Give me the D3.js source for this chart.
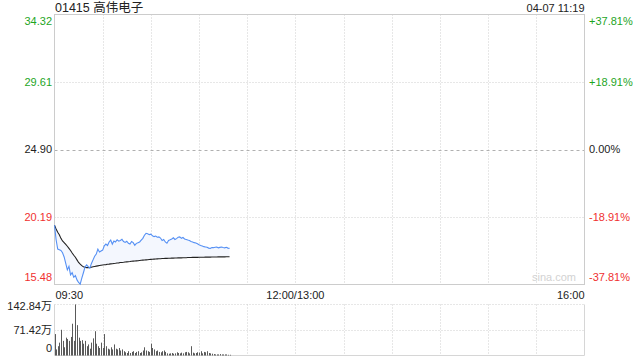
<!DOCTYPE html>
<html><head><meta charset="utf-8">
<script src="https://cdn.jsdelivr.net/npm/d3@7"></script>
<style>
html,body{margin:0;padding:0;background:#fff;}
svg{display:block;font-family:"Liberation Sans",Arial,"Noto Sans CJK SC",sans-serif;}
</style></head>
<body><svg id="c" width="640" height="360"></svg>
<script>
const title = "01415 高伟电子";
const stamp = "04-07 11:19";
const prevClose = 24.90;
const priceTicks = [34.32, 29.61, 24.90, 20.19, 15.48];
const pctTicks = ["+37.81%", "+18.91%", "0.00%", "-18.91%", "-37.81%"];
const timeLabels = ["09:30", "12:00/13:00", "16:00"];
const timeLabelMinutes = [0, 150, 330];
const volTicks = [142.84, 71.42, 0];
const volTickLabels = ["142.84万", "71.42万", "0"];
// minute-by-minute price from 09:30
const price = [19.61,18.60,17.95,17.90,17.85,17.70,17.40,16.95,16.50,16.75,
16.15,16.30,15.98,16.10,15.80,15.62,15.50,15.92,16.30,16.70,
16.85,16.72,16.62,16.95,17.20,17.45,17.60,17.95,17.75,17.82,
17.88,18.18,18.30,18.20,18.45,18.58,18.30,18.52,18.45,18.60,
18.50,18.55,18.63,18.48,18.42,18.50,18.36,18.30,18.48,18.40,
18.22,18.35,18.40,18.45,18.58,18.70,18.92,19.05,19.02,18.96,
18.99,18.88,18.82,18.86,18.78,18.80,18.72,18.55,18.62,18.45,
18.36,18.55,18.60,18.66,18.74,18.62,18.68,18.78,18.80,18.70,
18.76,18.66,18.62,18.58,18.55,18.48,18.45,18.40,18.38,18.32,
18.25,18.20,18.16,18.12,18.10,18.08,18.02,18.00,18.06,18.05,
18.08,18.09,18.04,18.07,18.10,18.06,18.04,18.08,18.02,18.00];
// average price line
const avgPrice = [19.61,19.35,19.12,18.95,18.70,18.52,18.40,18.28,18.15,18.00,
17.85,17.68,17.52,17.38,17.20,17.02,16.90,16.80,16.72,16.68,
16.66,16.66,16.67,16.69,16.72,16.74,16.76,16.78,16.80,16.82,
16.84,16.86,16.87,16.89,16.90,16.92,16.93,16.95,16.96,16.98,
16.99,17.01,17.02,17.03,17.05,17.06,17.07,17.08,17.10,17.11,
17.12,17.13,17.14,17.16,17.17,17.18,17.19,17.20,17.21,17.22,
17.23,17.24,17.25,17.26,17.27,17.28,17.28,17.29,17.29,17.30,
17.30,17.31,17.31,17.32,17.32,17.33,17.33,17.34,17.34,17.34,
17.35,17.35,17.35,17.36,17.36,17.36,17.37,17.37,17.37,17.37,
17.38,17.38,17.38,17.38,17.39,17.39,17.39,17.39,17.40,17.40,
17.40,17.40,17.41,17.41,17.41,17.41,17.41,17.42,17.42,17.42];
// volume (万股) per minute
const volume = [60,17,26,36,72,41,23,50,46,41,
52,89,41,143,85,50,41,43,33,41,
26,31,19,36,48,68,33,26,21,36,
21,60,26,19,17,23,17,31,19,17,
21,14,17,12,9,7,12,7,10,12,
7,10,12,7,9,14,23,14,12,10,
33,21,17,12,14,10,9,12,14,10,
6,5,6,7,5,6,9,7,6,8,
6,9,10,9,6,26,8,6,7,9,
8,12,6,10,9,12,7,6,5,4,
3,3,3,4,3,3,3,3,2,2];

const GREEN = "#1ea51e", RED = "#f03030", BLUE = "#5590f4";
const svg = d3.select("#c");
const L = 54.5, R = 584.5, T = 14.5, B = 284.5;
const VT = 304.5, VB = 355.5;

const x = d3.scaleLinear().domain([0, 330]).range([L, R]);
const y = d3.scaleLinear().domain([15.48, 34.32]).range([B, T]);
const yv = d3.scaleLinear().domain([0, 142.84]).range([VB, VT]);

const grid = svg.append("g");
const vTicks = d3.range(30, 330, 30);
grid.selectAll(".vg").data(vTicks).join("line")
  .attr("x1", d => Math.round(x(d)) + 0.5).attr("x2", d => Math.round(x(d)) + 0.5)
  .attr("y1", T).attr("y2", B).attr("stroke", "#cfcfcf").attr("stroke-dasharray", "1,2");
grid.selectAll(".vg2").data(vTicks).join("line")
  .attr("x1", d => Math.round(x(d)) + 0.5).attr("x2", d => Math.round(x(d)) + 0.5)
  .attr("y1", VT).attr("y2", VB).attr("stroke", "#cfcfcf").attr("stroke-dasharray", "1,2");
grid.selectAll(".hg").data(priceTicks.slice(1, 4)).join("line")
  .attr("x1", L).attr("x2", R)
  .attr("y1", d => Math.round(y(d)) + 0.5).attr("y2", d => Math.round(y(d)) + 0.5)
  .attr("stroke", d => d === prevClose ? "#b0b0b0" : "#cfcfcf")
  .attr("stroke-dasharray", d => d === prevClose ? "3,3" : "1,2");
grid.append("line").attr("x1", L).attr("x2", R)
  .attr("y1", Math.round(yv(71.42)) + 0.5).attr("y2", Math.round(yv(71.42)) + 0.5)
  .attr("stroke", "#cfcfcf").attr("stroke-dasharray", "1,2");
grid.append("line").attr("x1", L).attr("x2", R).attr("y1", VT).attr("y2", VT)
  .attr("stroke", "#cfcfcf").attr("stroke-dasharray", "1,2");

svg.append("rect").attr("x", L).attr("y", T).attr("width", R - L).attr("height", B - T)
  .attr("fill", "none").attr("stroke", "#cccccc");
svg.append("line").attr("x1", L).attr("x2", L).attr("y1", VT).attr("y2", VB).attr("stroke", "#d6d6d6");
svg.append("line").attr("x1", R).attr("x2", R).attr("y1", VT).attr("y2", VB).attr("stroke", "#d6d6d6");
svg.append("line").attr("x1", L).attr("x2", R).attr("y1", VB).attr("y2", VB).attr("stroke", "#d6d6d6");

svg.append("text").attr("x", 576).attr("y", 281).attr("text-anchor", "end")
  .attr("font-size", 11).attr("fill", "#d2d2d2").text("sina.com");

// faint fill between price and average line
const area = d3.area().x((d, i) => x(i)).y0((d, i) => y(avgPrice[i])).y1(d => y(d));
svg.append("path").datum(price).attr("d", area).attr("fill", "#f4f7fe");
const line = d3.line().x((d, i) => x(i)).y(d => y(d));
svg.append("path").datum(avgPrice).attr("d", line).attr("fill", "none")
  .attr("stroke", "#222").attr("stroke-width", 1.1);
svg.append("path").datum(price).attr("d", line).attr("fill", "none")
  .attr("stroke", BLUE).attr("stroke-width", 1.1);

svg.append("g").selectAll("line").data(volume).join("line")
  .attr("x1", (d, i) => Math.round(x(i)) + 0.5).attr("x2", (d, i) => Math.round(x(i)) + 0.5)
  .attr("y1", VB).attr("y2", d => yv(d))
  .attr("stroke", "#5a5a5a").attr("stroke-width", 1);

const colorFor = (v) => v > prevClose ? GREEN : (v < prevClose ? RED : "#222");
const labelY = (i, yy) => i === 0 ? yy + 7 : (i === priceTicks.length - 1 ? yy - 7 : yy);
svg.append("g").selectAll("text").data(priceTicks).join("text")
  .attr("x", 52).attr("y", (d, i) => labelY(i, y(d)))
  .attr("dy", "0.35em").attr("text-anchor", "end").attr("font-size", 11)
  .attr("fill", d => colorFor(d)).text(d => d.toFixed(2));
svg.append("g").selectAll("text").data(pctTicks).join("text")
  .attr("x", 589).attr("y", (d, i) => labelY(i, y(priceTicks[i])))
  .attr("dy", "0.35em").attr("text-anchor", "start").attr("font-size", 11)
  .attr("fill", (d, i) => colorFor(priceTicks[i])).text(d => d);

svg.append("g").selectAll("text").data(timeLabels).join("text")
  .attr("x", (d, i) => i === 0 ? L + 1 : (i === 2 ? R : x(timeLabelMinutes[i])))
  .attr("y", 295).attr("dy", "0.35em")
  .attr("text-anchor", (d, i) => i === 0 ? "start" : (i === 2 ? "end" : "middle"))
  .attr("font-size", 11).attr("fill", "#222").text(d => d);

svg.append("g").selectAll("text").data(volTicks).join("text")
  .attr("x", 52).attr("y", (d, i) => i === 0 ? yv(d) + 2 : (i === 2 ? yv(d) - 7 : yv(d)))
  .attr("dy", "0.35em").attr("text-anchor", "end").attr("font-size", 11)
  .attr("fill", "#222").text((d, i) => volTickLabels[i]);

svg.append("text").attr("x", 55).attr("y", 12).attr("font-size", 12.5).attr("fill", "#222").text(title);
svg.append("text").attr("x", R).attr("y", 12).attr("text-anchor", "end")
  .attr("font-size", 11).attr("fill", "#222").text(stamp);
</script></body></html>
